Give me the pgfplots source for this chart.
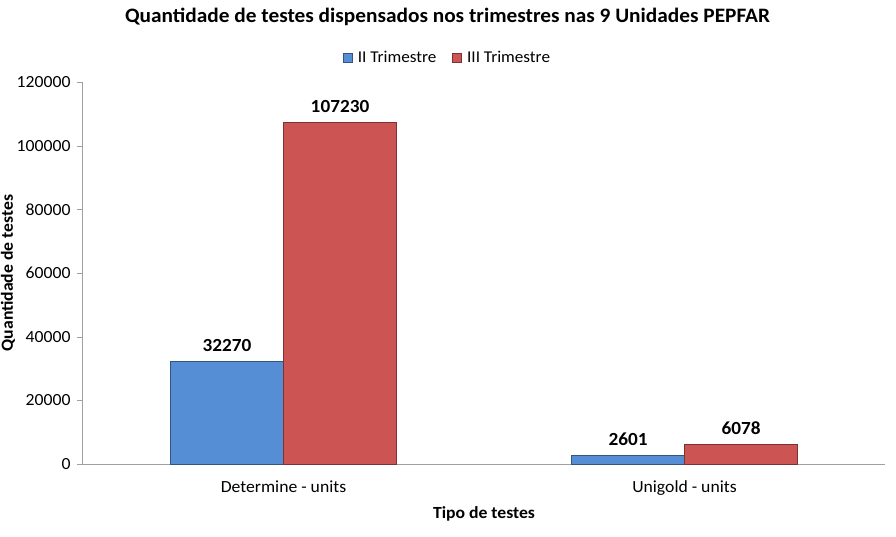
\documentclass[border=0pt]{standalone}
\usepackage{pgfplots}
\pgfplotsset{compat=1.18}
\usepackage{fontspec}
\setmainfont{Carlito}[FakeStretch=1.04]

\definecolor{barblue}{RGB}{85,142,213}
\definecolor{barred}{RGB}{204,85,83}
\definecolor{axisgray}{RGB}{160,160,160}

\begin{document}
\begin{tikzpicture}[x=1pt,y=1pt]
\useasboundingbox (-83,-72) rectangle (813,464);
\begin{axis}[
  at={(0,0)}, anchor=south west,
  width=802pt, height=382pt, scale only axis,
  ybar=0pt, bar width=113pt,
  xmin=-0.5, xmax=1.5, ymin=0, ymax=120000,
  axis lines*=left,
  axis line style={axisgray, line width=1pt},
  xtick=data,
  xticklabels={Determine - units, Unigold - units},
  major x tick style={draw=none},
  ytick={0,20000,40000,60000,80000,100000,120000},
  yticklabels={0,20000,40000,60000,80000,100000,120000},
  scaled y ticks=false,
  major y tick style={axisgray},
  tick align=outside, major tick length=6pt,
  ticklabel style={font=\fontsize{17}{20}\selectfont, text=black},
  xticklabel style={yshift=-7pt},
  yticklabel style={xshift=-3pt},
  xlabel={Tipo de testes},
  ylabel={Quantidade de testes},
  label style={font=\fontsize{17}{20}\selectfont\bfseries},
  xlabel style={at={(axis description cs:0.5,0)}, anchor=center, yshift=-50pt},
  ylabel style={at={(axis description cs:-0.0935,0.5)}, anchor=center},
  title={Quantidade de testes dispensados nos trimestres nas 9 Unidades PEPFAR},
  title style={at={(0.4545,1)}, anchor=center, yshift=59pt,
    font=\fontsize{20.5}{24}\selectfont\bfseries},
  legend style={at={(0.4545,1)}, anchor=center, yshift=24pt, draw=none,
    font=\fontsize{16.5}{19}\selectfont, legend columns=2,
    /tikz/every even column/.append style={column sep=14pt}},
  legend image code/.code={\fill[#1] (0pt,-4.5pt) rectangle (9pt,4.5pt); \path (12pt,0pt);},
  nodes near coords,
  nodes near coords style={font=\fontsize{18.5}{22}\selectfont\bfseries, text=black, yshift=6pt},
  point meta=explicit symbolic,
]
\addplot[fill=barblue, draw=barblue!60!black, line width=0.8pt] coordinates {(0,32270) [32270] (1,2601) [2601]};
\addplot[fill=barred, draw=barred!60!black, line width=0.8pt] coordinates {(0,107230) [107230] (1,6078) [6078]};
\legend{II Trimestre, III Trimestre}
\end{axis}
\end{tikzpicture}
\end{document}
